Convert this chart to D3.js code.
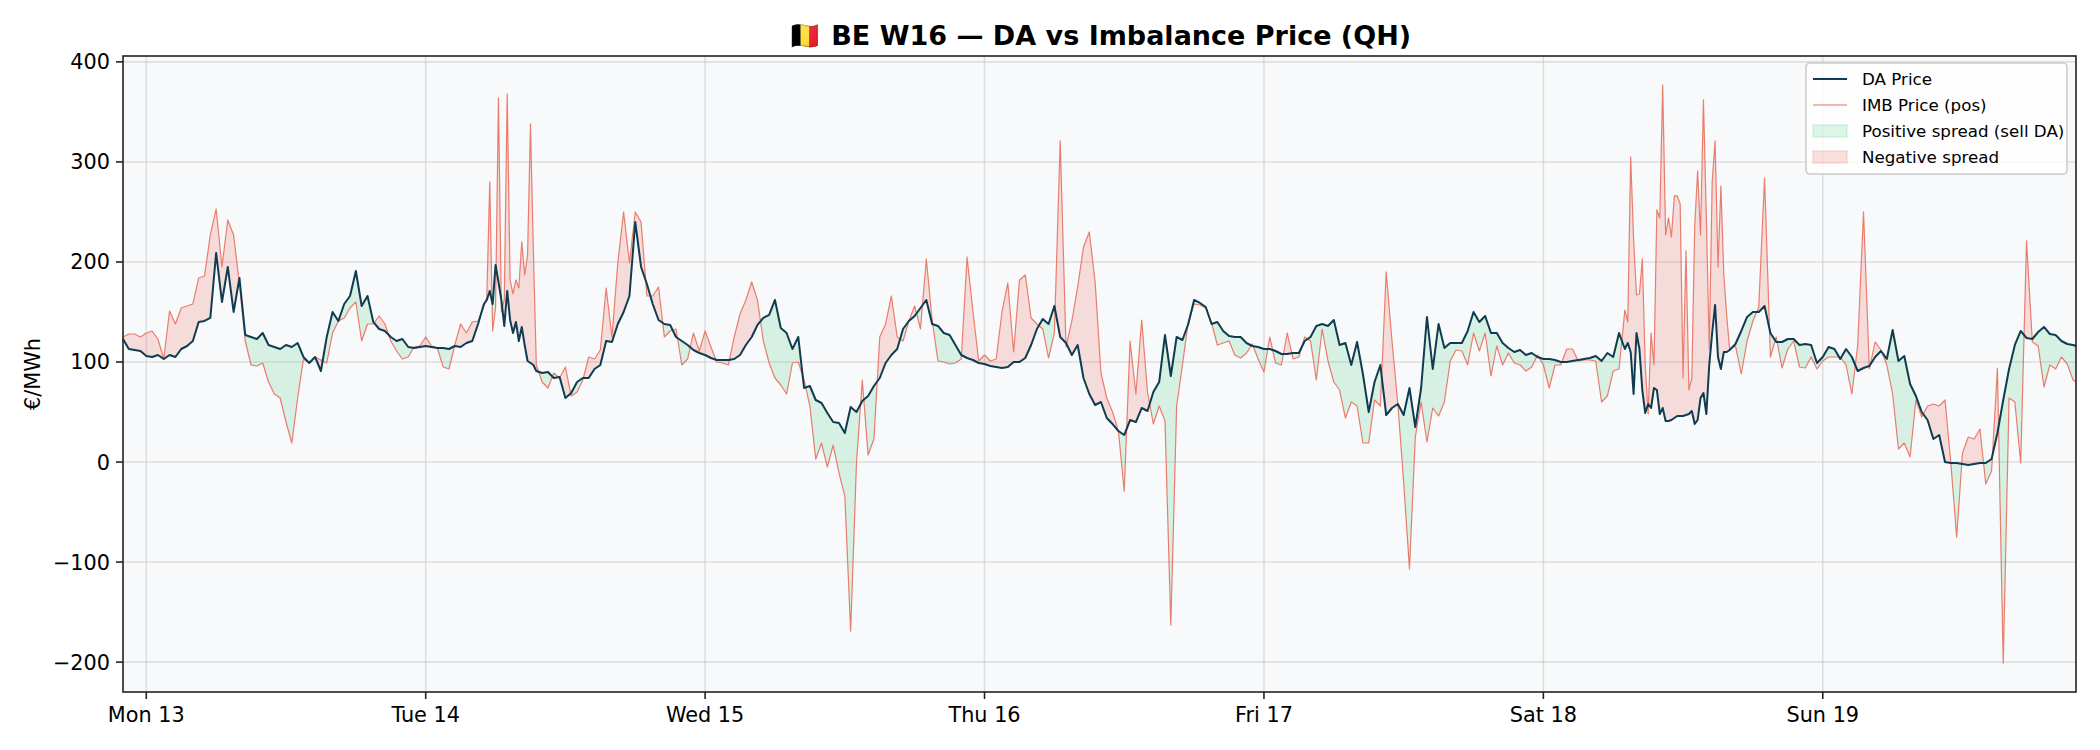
<!DOCTYPE html>
<html>
<head>
<meta charset="utf-8">
<script src="https://cdn.jsdelivr.net/npm/d3@7"></script>
<style>
  body { margin: 0; background: #fff; }
  svg text { font-family: 'DejaVu Sans', sans-serif; fill: #000; }
</style>
</head>
<body>
<script>
const WIDTH = 2100
const HEIGHT = 750
const MARGIN = { top: 56, right: 24, bottom: 58, left: 123 }

// first quarter-hour = Mon 13 Apr 00:00 Brussels (22:00 UTC the day before)
const START = Date.UTC(2026, 3, 12, 22)

// quarter-hour index of each reading (half-hourly, finer where the imbalance price spikes)
const qhMon = d3.range(0, 96, 2)
const qhTue = [...d3.range(96, 126, 2), ...d3.range(125, 143), ...d3.range(144, 192, 2)]
const qhWed = d3.range(192, 288, 2)
const qhThu = d3.range(288, 384, 2)
const qhFri = d3.range(384, 480, 2)
const qhSat = [...d3.range(480, 516, 2), ...d3.range(516, 553), ...d3.range(554, 576, 2)]
const qhSun = [...d3.range(576, 672, 2), 671]

// day-ahead price, €/MWh
const daMon = [123,113,112,111,106,105,107,103,107,105,113,116,121,140,141,144,209,160,195,150,184,127,125,123,129,117,115,113,117,115,119,105,99,105,91,125,150,141,158,166,191,156,166,140,133,131,125,121]
const daTue = [123,115,114,115,116,115,114,114,113,116,115,119,121,138,158,
  162,171,158,197,180,162,136,171,142,129,140,121,135,117,101,99,97,91,
  89,90,84,85,64,69,80,84,84,93,97,121,120,138,150,166,240,195,178,158,142,138,137,125]
const daWed = [121,117,112,109,107,104,102,102,102,103,107,117,125,137,144,147,162,134,129,113,125,74,76,62,59,49,40,39,29,55,50,61,66,76,84,99,107,113,133,141,146,154,162,138,136,129,127,117]
const daThu = [107,104,102,99,98,96,95,94,95,100,100,104,117,133,143,138,156,125,119,107,117,84,68,57,60,44,38,31,27,42,40,54,51,70,80,127,86,125,122,138,162,159,155,138,140,131,126,125]
const daFri = [125,119,116,115,113,113,111,108,108,109,109,121,125,136,138,136,142,117,119,97,120,88,50,80,97,47,54,58,47,74,35,74,145,93,138,114,119,119,119,131,150,140,146,129,129,119,114,110]
const daSat = [112,107,109,105,103,103,102,100,100,101,102,103,104,106,101,109,105,129,
  113,119,110,68,129,113,72,49,58,54,74,72,48,54,41,41,42,44,46,46,46,47,48,51,38,42,64,69,48,97,129,157,105,93,110,110,112,
  118,131,145,150,150,156,129,120,120,123,123]
const daSun = [117,118,117,99,105,115,113,103,113,105,91,94,96,105,111,103,132,101,106,78,66,50,42,23,27,0,-1,-1,-2,-3,-2,-1,-1,3,29,62,93,117,131,124,123,130,135,128,127,121,118,117,116]

// imbalance price (positive), €/MWh
const imbMon = [125,128,128,125,129,131,123,103,151,138,154,156,158,184,186,227,253,195,242,227,178,121,97,96,99,80,68,64,40,19,64,103,99,105,102,99,129,141,144,154,160,121,138,138,146,138,121,111]
const imbTue = [103,105,115,116,125,116,114,95,93,117,138,129,140,141,156,
  165,280,131,154,364,150,162,368,182,168,182,174,220,187,207,338,210,97,
  80,74,89,84,95,66,70,82,105,103,112,174,125,199,250,199,250,240,166,166,175,125,131,133]
const imbWed = [97,103,129,111,131,115,100,99,97,125,148,162,180,162,121,99,84,77,68,99,100,82,56,3,19,-5,17,-11,-34,-169,-1,82,7,23,125,138,166,125,121,141,156,133,203,142,101,100,98,99]
const imbThu = [103,205,151,101,107,101,103,150,179,110,182,187,144,138,133,104,129,321,115,141,175,215,230,180,89,64,50,31,-29,121,68,142,70,38,56,41,-163,56,97,140,158,157,154,139,117,119,121,107]
const imbFri = [104,109,118,103,90,125,99,97,129,103,105,125,121,82,133,101,80,72,44,60,56,19,19,62,56,190,121,58,-20,-107,25,60,20,54,46,60,101,112,111,97,129,111,129,86,116,97,109,99]
const imbSat = [97,91,95,107,97,74,97,97,113,113,101,102,102,101,60,66,91,93,
  152,140,305,223,167,168,203,97,48,129,97,252,244,377,227,244,225,266,266,258,84,211,72,84,236,291,227,362,244,113,280,321,195,276,187,146,113,
  116,88,121,141,155,284,105,125,94,113,121]
const imbSun = [95,94,105,93,101,105,105,105,97,68,117,250,93,120,112,97,68,13,19,5,62,45,56,58,56,62,-1,-75,9,25,23,33,-22,-9,94,-201,64,60,-1,221,120,116,75,97,93,105,98,82,80]

const Y_TICKS = [-200, -100, 0, 100, 200, 300, 400]
const LEGEND_LABELS = ['DA Price', 'IMB Price (pos)', 'Positive spread (sell DA)', 'Negative spread']

const QH = [].concat(qhMon, qhTue, qhWed, qhThu, qhFri, qhSat, qhSun)
const DA = [].concat(daMon, daTue, daWed, daThu, daFri, daSat, daSun)
const IMB = [].concat(imbMon, imbTue, imbWed, imbThu, imbFri, imbSat, imbSun)

const data = QH.map((q, i) => ({ t: new Date(START + q * 15 * 60 * 1000), da: DA[i], imb: IMB[i] }))

const DA_COLOR = '#0f3c50'
const IMB_COLOR = '#e8705f'
const POS_COLOR = '#2ecc71'
const NEG_COLOR = '#e74c3c'

const plotL = MARGIN.left
const plotR = WIDTH - MARGIN.right
const plotT = MARGIN.top
const plotB = HEIGHT - MARGIN.bottom

const x = d3.scaleUtc()
  .domain(d3.extent(data, d => d.t))
  .range([plotL, plotR])

// matplotlib-like 5% margin on the y data range
const yMin = d3.min(data, d => Math.min(d.da, d.imb))
const yMax = d3.max(data, d => Math.max(d.da, d.imb))
const pad = (yMax - yMin) * 0.05
const y = d3.scaleLinear()
  .domain([yMin - pad, yMax + pad])
  .range([plotB, plotT])

const svg = d3.select('body')
  .append('svg')
  .attr('width', WIDTH)
  .attr('height', HEIGHT)

svg.append('rect')
  .attr('width', WIDTH)
  .attr('height', HEIGHT)
  .attr('fill', '#fff')

svg.append('rect')
  .attr('x', plotL)
  .attr('y', plotT)
  .attr('width', plotR - plotL)
  .attr('height', plotB - plotT)
  .attr('fill', '#f8f9fa')

const dayTicks = x.ticks(d3.utcDay)

// grid
const grid = svg.append('g')
  .attr('stroke', '#b0b0b0')
  .attr('stroke-opacity', 0.35)
  .attr('stroke-width', 1.6)

grid.selectAll('line.h')
  .data(Y_TICKS)
  .enter()
  .append('line')
  .attr('class', 'h')
  .attr('x1', plotL)
  .attr('x2', plotR)
  .attr('y1', d => y(d))
  .attr('y2', d => y(d))

grid.selectAll('line.v')
  .data(dayTicks)
  .enter()
  .append('line')
  .attr('class', 'v')
  .attr('x1', d => x(d))
  .attr('x2', d => x(d))
  .attr('y1', plotT)
  .attr('y2', plotB)

// spread fills: area between the two curves, clipped below DA (green) or below IMB (red)
const defs = svg.append('defs')
defs.append('clipPath')
  .attr('id', 'below-da')
  .append('path')
  .attr('d', d3.area().x(d => x(d.t)).y0(plotB).y1(d => y(d.da))(data))
defs.append('clipPath')
  .attr('id', 'below-imb')
  .append('path')
  .attr('d', d3.area().x(d => x(d.t)).y0(plotB).y1(d => y(d.imb))(data))

const between = d3.area()
  .x(d => x(d.t))
  .y0(d => y(d.imb))
  .y1(d => y(d.da))

svg.append('path')
  .attr('d', between(data))
  .attr('fill', POS_COLOR)
  .attr('fill-opacity', 0.17)
  .attr('clip-path', 'url(#below-da)')

svg.append('path')
  .attr('d', between(data))
  .attr('fill', NEG_COLOR)
  .attr('fill-opacity', 0.17)
  .attr('clip-path', 'url(#below-imb)')

// lines
svg.append('path')
  .attr('d', d3.line().x(d => x(d.t)).y(d => y(d.imb))(data))
  .attr('fill', 'none')
  .attr('stroke', IMB_COLOR)
  .attr('stroke-width', 1.2)
  .attr('stroke-opacity', 0.9)
  .attr('stroke-linejoin', 'round')

svg.append('path')
  .attr('d', d3.line().x(d => x(d.t)).y(d => y(d.da))(data))
  .attr('fill', 'none')
  .attr('stroke', DA_COLOR)
  .attr('stroke-width', 2)
  .attr('stroke-linejoin', 'round')

// spines
svg.append('rect')
  .attr('x', plotL)
  .attr('y', plotT)
  .attr('width', plotR - plotL)
  .attr('height', plotB - plotT)
  .attr('fill', 'none')
  .attr('stroke', '#222')
  .attr('stroke-width', 1.6)

// y axis
const yAxis = svg.append('g')
yAxis.selectAll('line')
  .data(Y_TICKS)
  .enter()
  .append('line')
  .attr('x1', plotL - 7)
  .attr('x2', plotL)
  .attr('y1', d => y(d))
  .attr('y2', d => y(d))
  .attr('stroke', '#222')
  .attr('stroke-width', 1.6)
yAxis.selectAll('text')
  .data(Y_TICKS)
  .enter()
  .append('text')
  .attr('x', plotL - 13)
  .attr('y', d => y(d) + 7.5)
  .attr('text-anchor', 'end')
  .attr('font-size', 20.8)
  .text(d3.format('d'))

// x axis
const fmtDay = d3.utcFormat('%a %d')
const xAxis = svg.append('g')
xAxis.selectAll('line')
  .data(dayTicks)
  .enter()
  .append('line')
  .attr('x1', d => x(d))
  .attr('x2', d => x(d))
  .attr('y1', plotB)
  .attr('y2', plotB + 7)
  .attr('stroke', '#222')
  .attr('stroke-width', 1.6)
xAxis.selectAll('text')
  .data(dayTicks)
  .enter()
  .append('text')
  .attr('x', d => x(d))
  .attr('y', plotB + 30)
  .attr('text-anchor', 'middle')
  .attr('font-size', 20.8)
  .text(fmtDay)

// axis label
svg.append('text')
  .attr('transform', `translate(40, ${(plotT + plotB) / 2}) rotate(-90)`)
  .attr('text-anchor', 'middle')
  .attr('font-size', 20.8)
  .text('€/MWh')

// title
svg.append('text')
  .attr('x', (plotL + plotR) / 2)
  .attr('y', 45)
  .attr('text-anchor', 'middle')
  .attr('font-size', 27)
  .attr('font-weight', 'bold')
  .text('🇧🇪 BE W16 — DA vs Imbalance Price (QH)')

// legend
const legend = svg.append('g')
  .attr('transform', 'translate(1806, 63)')

legend.append('rect')
  .attr('width', 261)
  .attr('height', 111)
  .attr('rx', 4)
  .attr('fill', '#fff')
  .attr('fill-opacity', 0.8)
  .attr('stroke', '#cccccc')
  .attr('stroke-width', 1.6)

const ROW = 26
const rowY = i => 16 + i * ROW

legend.append('line')
  .attr('x1', 7).attr('x2', 41)
  .attr('y1', rowY(0)).attr('y2', rowY(0))
  .attr('stroke', DA_COLOR)
  .attr('stroke-width', 2)
legend.append('line')
  .attr('x1', 7).attr('x2', 41)
  .attr('y1', rowY(1)).attr('y2', rowY(1))
  .attr('stroke', IMB_COLOR)
  .attr('stroke-width', 1.2)

legend.selectAll('rect.patch')
  .data([POS_COLOR, NEG_COLOR])
  .enter()
  .append('rect')
  .attr('class', 'patch')
  .attr('x', 7)
  .attr('y', (d, i) => rowY(i + 2) - 6)
  .attr('width', 34)
  .attr('height', 12)
  .attr('fill', d => d)
  .attr('fill-opacity', 0.17)
  .attr('stroke', d => d)
  .attr('stroke-opacity', 0.25)

legend.selectAll('text')
  .data(LEGEND_LABELS)
  .enter()
  .append('text')
  .attr('x', 56)
  .attr('y', (d, i) => rowY(i) + 6)
  .attr('font-size', 16.7)
  .text(d => d)
</script>
</body>
</html>
